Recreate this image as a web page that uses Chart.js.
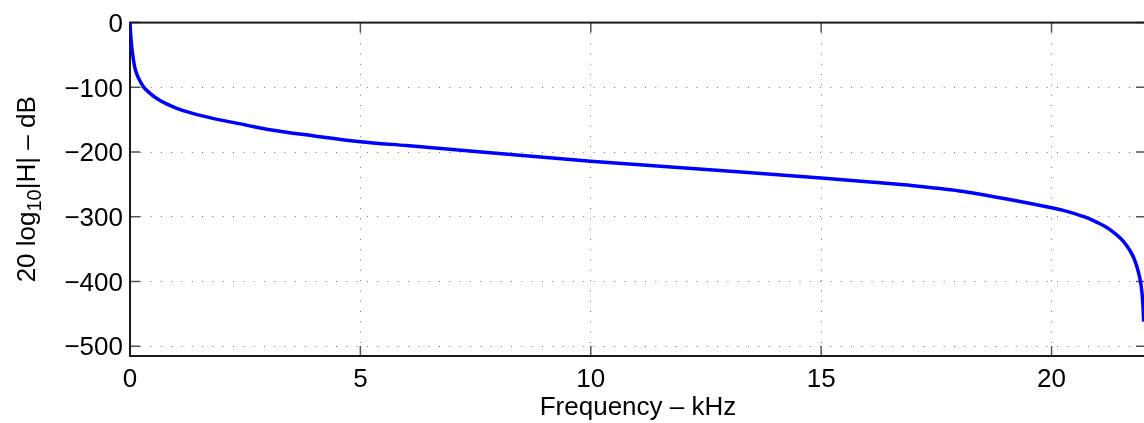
<!DOCTYPE html>
<html>
<head>
<meta charset="utf-8">
<script src="https://cdn.jsdelivr.net/npm/chart.js@4/dist/chart.umd.min.js"></script>
<style>
  html, body { margin: 0; padding: 0; background: #fff; overflow: hidden; }
  #wrap { width: 1150px; height: 423px; position: relative; }
</style>
</head>
<body>
<div id="wrap"><canvas id="response"></canvas></div>
<script>
// magnitude response
const freqKHz = [0, 0.01, 0.025, 0.05, 0.1, 0.15, 0.2, 0.3, 0.4, 0.5, 0.6, 0.75, 1.0, 1.25, 1.5,
                 2.0, 2.5, 3.0, 4.0, 5.0, 6.0, 7.5, 10.0, 12.5, 15.0, 16.0, 17.0, 18.0, 19.0,
                 20.0, 20.25, 20.5, 20.75, 21.0, 21.2, 21.4, 21.55, 21.7, 21.8, 21.88, 21.94,
                 21.98, 22.0];
const magDB = [0, -12, -28, -45, -68, -80, -88, -100, -107, -113, -118, -124, -132, -138, -143,
               -151, -158, -165, -175, -184, -190, -199, -214, -227, -240, -246, -252, -260, -272,
               -286, -290, -295, -301, -309, -316.5, -327, -337, -352, -366, -384, -404,
               -432, -462];

const xTicks = [0, 5, 10, 15, 20];
const yTicks = [-500, -400, -300, -200, -100, 0];

const FONT = "'Liberation Sans', Arial, Helvetica, sans-serif";

// box + inward ticks, matlab style
const axesBox = {
  id: "axesBox",
  beforeDatasetsDraw(chart) {
    const { ctx, chartArea: a } = chart;
    const xs = chart.scales.x, ys = chart.scales.y;
    ctx.save();
    ctx.strokeStyle = "#555";
    ctx.lineWidth = 1.5;
    ctx.beginPath();
    for (const v of xTicks) {
      const px = xs.getPixelForValue(v);
      ctx.moveTo(px, a.bottom); ctx.lineTo(px, a.bottom - 10);
      ctx.moveTo(px, a.top); ctx.lineTo(px, a.top + 10);
    }
    for (const v of yTicks) {
      const py = ys.getPixelForValue(v);
      ctx.moveTo(a.left, py); ctx.lineTo(a.left + 10, py);
      ctx.moveTo(a.right, py); ctx.lineTo(a.right - 10, py);
    }
    ctx.stroke();
    ctx.strokeStyle = "#1a1a1a";
    ctx.lineWidth = 2;
    ctx.strokeRect(a.left, a.top, a.right - a.left, a.bottom - a.top);
    ctx.restore();
  }
};

// y label with subscript
const yLabel = {
  id: "yLabel",
  afterDraw(chart) {
    const { ctx, chartArea: a } = chart;
    const parts = [
      { t: "20 log", size: 26, dy: 0 },
      { t: "10", size: 20, dy: 6 },
      { t: "|H| \u2013 dB", size: 26, dy: 0 }
    ];
    ctx.save();
    ctx.fillStyle = "#000";
    ctx.textBaseline = "alphabetic";
    ctx.textAlign = "left";
    let total = 0;
    for (const p of parts) {
      ctx.font = p.size + "px " + FONT;
      p.w = ctx.measureText(p.t).width;
      total += p.w;
    }
    ctx.translate(35, (a.top + a.bottom) / 2);
    ctx.rotate(-Math.PI / 2);
    let x = -total / 2;
    for (const p of parts) {
      ctx.font = p.size + "px " + FONT;
      ctx.fillText(p.t, x, p.dy);
      x += p.w;
    }
    ctx.restore();
  }
};

new Chart(document.getElementById("response"), {
  type: "line",
  data: {
    datasets: [{
      data: freqKHz.map((f, i) => ({ x: f, y: magDB[i] })),
      borderColor: "#0000ff",
      borderWidth: 3.5,
      pointRadius: 0,
      cubicInterpolationMode: "monotone",
      fill: false
    }]
  },
  options: {
    responsive: true,
    maintainAspectRatio: false,
    animation: false,
    layout: { padding: { top: 20, right: 4, bottom: 0, left: 0 } },
    plugins: { legend: { display: false }, tooltip: { enabled: false } },
    scales: {
      x: {
        type: "linear",
        min: 0,
        max: 22.05,
        afterBuildTicks: s => { s.ticks = xTicks.map(v => ({ value: v })); },
        afterFit: s => { s.height = 67; },
        ticks: { color: "#000", font: { family: FONT, size: 26 }, padding: 8, maxRotation: 0 },
        grid: { color: "rgba(0,0,0,0.55)", lineWidth: 1, drawTicks: false },
        border: { display: false, dash: [1, 9.3] },
        title: {
          display: true,
          text: "Frequency \u2013 kHz",
          color: "#000",
          font: { family: FONT, size: 26 },
          padding: { top: 0, bottom: 0 }
        }
      },
      y: {
        type: "linear",
        min: -515,
        max: 0,
        afterBuildTicks: s => { s.ticks = yTicks.map(v => ({ value: v })); },
        afterFit: s => { s.width = 130; },
        ticks: {
          color: "#000",
          font: { family: FONT, size: 26 },
          padding: 7,
          labelOffset: 2,
          callback: v => String(v).replace("-", "\u2212")
        },
        grid: { color: "rgba(0,0,0,0.55)", lineWidth: 1, drawTicks: false },
        border: { display: false, dash: [1, 9.3] }
      }
    }
  },
  plugins: [axesBox, yLabel]
});
</script>
</body>
</html>
